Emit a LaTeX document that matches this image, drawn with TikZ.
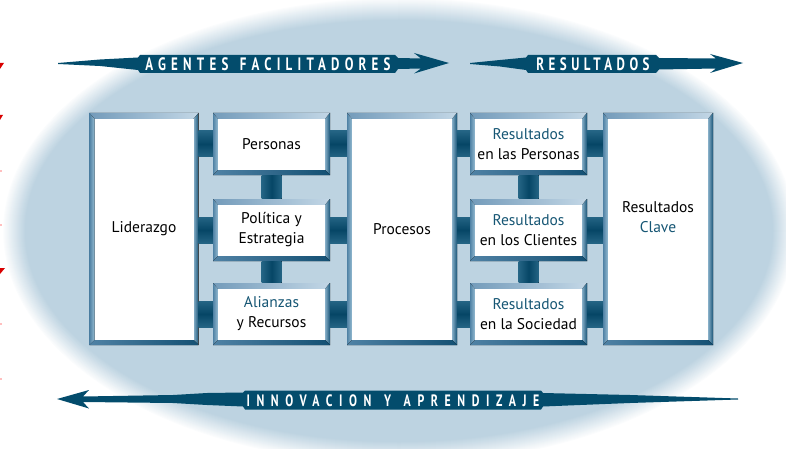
\documentclass[tikz,border=0pt]{standalone}
\usepackage{fontspec}
\setmainfont{PT Sans}
\newfontfamily\arrowfont[FakeStretch=0.72,LetterSpace=25]{PT Sans}
\newfontfamily\arrowfonta[FakeStretch=0.72,LetterSpace=29]{PT Sans}
\newfontfamily\arrowfontw[FakeStretch=0.72,LetterSpace=40]{PT Sans}
\usetikzlibrary{calc}
\definecolor{ellc}{RGB}{189,211,225}
\definecolor{arrc}{RGB}{3,76,108}
\definecolor{txtc}{RGB}{22,86,116}
\definecolor{barD}{RGB}{6,70,102}
\definecolor{barE}{RGB}{36,100,132}
\definecolor{bvTopL}{RGB}{115,155,186}
\definecolor{bvTopR}{RGB}{195,215,230}
\definecolor{bvLeftO}{RGB}{80,130,165}
\definecolor{bvLeftI}{RGB}{150,188,210}
\definecolor{bvRightI}{RGB}{135,175,200}
\definecolor{bvRightO}{RGB}{25,85,120}
\definecolor{bvBotL}{RGB}{80,130,165}
\definecolor{bvBotR}{RGB}{20,80,115}
\tikzset{
  bev/.style={inner sep=0pt, align=center, font=\fontsize{15.5}{20}\selectfont,
    path picture={
      \path (path picture bounding box.south west) coordinate (p1)
            (path picture bounding box.north east) coordinate (p3);
      \path (p1 -| p3) coordinate (p2) (p1 |- p3) coordinate (p4);
      \path ($(p1)+(5pt,5pt)$) coordinate (q1) ($(p3)+(-5pt,-6pt)$) coordinate (q3);
      \path (q1 -| q3) coordinate (q2) (q1 |- q3) coordinate (q4);
      \fill[left color=bvTopL,right color=bvTopR] (p4) -- (p3) -- (q3) -- (q4) -- cycle;
      \fill[left color=bvLeftO,right color=bvLeftI] (p1) -- (p4) -- (q4) -- (q1) -- cycle;
      \fill[left color=bvRightI,right color=bvRightO] (p2) -- (p3) -- (q3) -- (q2) -- cycle;
      \fill[left color=bvBotL,right color=bvBotR] (p1) -- (p2) -- (q2) -- (q1) -- cycle;
      \fill[white] (q1) rectangle (q3);
    }},
  bigbox/.style={bev, minimum width=109pt, minimum height=232pt},
  smallbox/.style={bev, minimum width=117pt, minimum height=62pt},
  hbarc/.style={top color=barE, bottom color=barE, middle color=barD},
  vbarc/.style={left color=barE, right color=barE, middle color=barD},
  arrshape/.style={fill=arrc},
  arrtxt/.style={text=white, inner sep=0pt, font=\arrowfont\bfseries\fontsize{18}{18}\selectfont},
  hl/.style={text=txtc}
}
\begin{document}
\begin{tikzpicture}[x=1pt,y=-1pt]
\useasboundingbox (0,0) rectangle (786,449);
% background ellipse with soft edge
\foreach \i in {22,21,...,1}{
  \pgfmathsetmacro{\p}{100-100*\i/23}
  \fill[ellc!\p!white] (399,231) ellipse [x radius={374+\i}, y radius={211+\i}];
}
\fill[ellc] (399,231) ellipse [x radius=374, y radius=211];
% small red marks at the left edge
\fill[red!85!black] (0,63) -- (4,63) -- (0,69) -- cycle;
\fill[red!85!black] (0,115) -- (3,115) -- (0,120) -- cycle;
\fill[red!85!black] (0,268) -- (5,268) -- (0,274) -- cycle;
\foreach \yy in {170,224,323,378}{\fill[red!25] (0,\yy) rectangle (1.5,\yy+2);}
% top-left arrow
\fill[arrshape] (58,63) -- (100,59.5) -- (138,57.5) -- (140,55) -- (395,55) -- (398,58) -- (421,58.5)
  -- (414,53) -- (449,63) -- (414,73.5) -- (421,68.5) -- (398,69) -- (395,73) -- (140,73)
  -- (138,70) -- (100,66) -- (58,64) -- cycle;
\node[arrtxt, font=\arrowfonta\bfseries\fontsize{18}{18}\selectfont] (af) at (268,64.5) {AGENTES\hspace{3pt} FACILITADORES};
% top-right arrow
\fill[arrshape] (470,63) -- (500,60) -- (526,57.5) -- (528,55) -- (656,55) -- (659,58) -- (716,58.5)
  -- (710,54) -- (743,63) -- (710,73) -- (716,68.5) -- (659,69.5) -- (656,73) -- (528,73)
  -- (526,70) -- (500,66.5) -- (470,64) -- cycle;
\node[arrtxt] (res) at (593,64.5) {RESULTADOS};
% bottom arrow
\fill[arrshape] (57,399) -- (89,390) -- (83,396.5) -- (173,395) -- (207,393) -- (243,392.5)
  -- (245,390.5) -- (541,390.5) -- (543,393) -- (630,395) -- (738,398.5) -- (738,399.5)
  -- (630,403) -- (543,406.5) -- (541,409.5) -- (245,409.5) -- (243,406.5) -- (207,405)
  -- (173,403) -- (83,402) -- (89,408.5) -- cycle;
\node[arrtxt, font=\arrowfontw\bfseries\fontsize{16.5}{17}\selectfont] (ia) at (393,400.5) {INNOVACION\hspace{3pt} Y\hspace{3pt} APRENDIZAJE};
% boxes
\node[bigbox] (lid) at (144,229) {Liderazgo};
\node[smallbox] (per) at (271.5,144) {Personas};
\node[smallbox] (pol) at (271.5,230) {Política y\\Estrategia};
\node[smallbox] (ali) at (271.5,314) {\textcolor{txtc}{Alianzas}\\y Recursos};
\node[bigbox, minimum width=110pt] (pro) at (402,229) {Procesos};
\node[smallbox] (rpe) at (528.5,144) {\textcolor{txtc}{Resultados}\\en las Personas};
\node[smallbox] (rcl) at (528.5,230) {\textcolor{txtc}{Resultados}\\en los Clientes};
\node[smallbox] (rso) at (528.5,314) {\textcolor{txtc}{Resultados}\\en la Sociedad};
\node[bigbox, minimum width=110pt] (cla) at (658,229) {\raisebox{0pt}[\height][\dimexpr\depth+22pt\relax]{\begin{tabular}{@{}c@{}}Resultados\\\textcolor{txtc}{Clave}\end{tabular}}};
% horizontal connectors
\foreach \s in {per,pol,ali}{
  \fill[hbarc] ($(lid.east |- \s.center)+(0,-13pt)$) rectangle ($(\s.west)+(0,13pt)$);
  \fill[hbarc] ($(\s.east)+(0,-13pt)$) rectangle ($(pro.west |- \s.center)+(0,13pt)$);
}
\foreach \s in {rpe,rcl,rso}{
  \fill[hbarc] ($(pro.east |- \s.center)+(0,-13pt)$) rectangle ($(\s.west)+(0,13pt)$);
  \fill[hbarc] ($(\s.east)+(0,-13pt)$) rectangle ($(cla.west |- \s.center)+(0,13pt)$);
}
% vertical connectors
\foreach \a/\b in {per/pol,pol/ali,rpe/rcl,rcl/rso}{
  \fill[vbarc] ($(\a.south)+(-10pt,0)$) rectangle ($(\b.north)+(10pt,0)$);
}
\end{tikzpicture}
\end{document}
